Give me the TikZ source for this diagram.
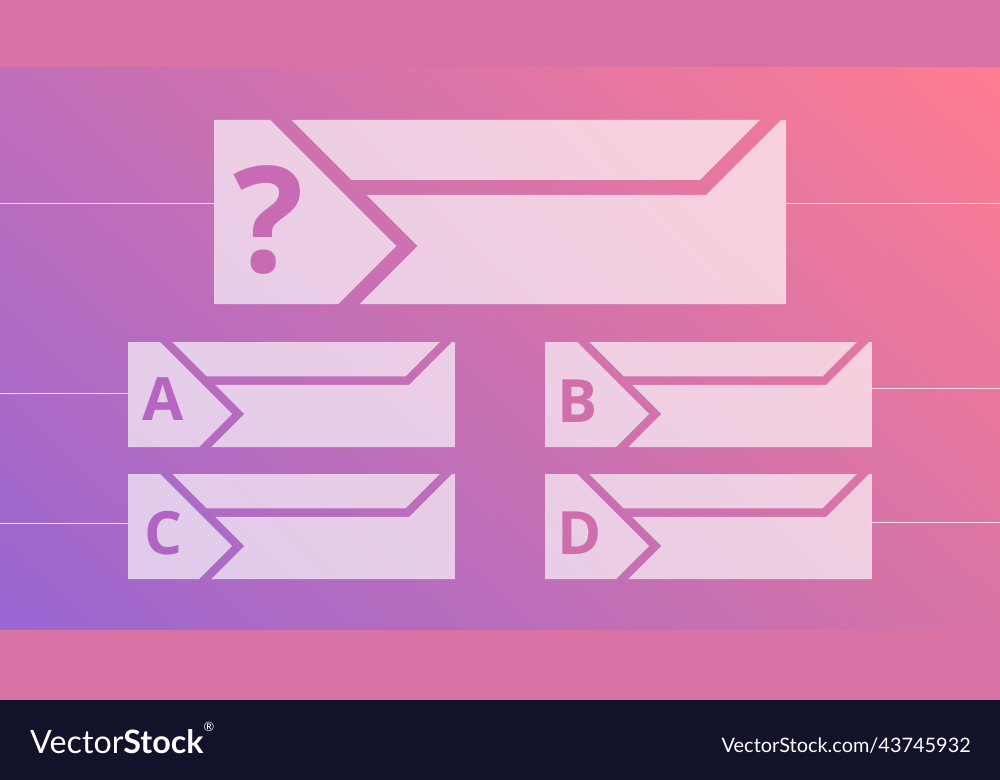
\documentclass[tikz,border=0pt]{standalone}
\usepackage{fontspec}
\usetikzlibrary{shadings}
\setmainfont{Open Sans}
\newfontfamily\footfont{Lato}
\definecolor{bandpink}{HTML}{D973A6}
\definecolor{gradtl}{HTML}{C06EB9}
\definecolor{gradtr}{HTML}{FF7D91}
\definecolor{gradbl}{HTML}{9966D2}
\definecolor{gradbr}{HTML}{D874A6}
\definecolor{footnavy}{HTML}{12132A}
\definecolor{qmark}{HTML}{C86AB4}
\definecolor{markA}{HTML}{B666C0}
\definecolor{markB}{HTML}{D070A8}
\definecolor{markC}{HTML}{B064C4}
\definecolor{markD}{HTML}{CE6EAC}
\tikzset{
  card/.style={fill=white, fill opacity=0.66},
  guide/.style={draw=white, draw opacity=0.75, line width=0.8pt},
  optletter/.style={font=\fontsize{51}{51}\selectfont\bfseries},
}
% one card: x, y, scale (big card is 572 x 184)
\newcommand{\answercard}[3]{%
  \begin{scope}[shift={(#1,#2)}, scale=#3]
    \fill[card] (0,0) -- (56.4,0) -- (182.4,126) -- (124.4,184) -- (0,184) -- cycle;
    \fill[card] (77.6,0) -- (545.9,0) -- (485.9,60) -- (137.6,60) -- cycle;
    \fill[card] (567.1,0) -- (572,0) -- (572,184) -- (145.6,184) -- (203.6,126)
      -- (152.6,75) -- (492.1,75) -- cycle;
  \end{scope}}
\begin{document}
\begin{tikzpicture}[x=0.3mm, y=-0.3mm]
    \useasboundingbox (0,0) rectangle (1000,780);
    % background bands
    \fill[bandpink] (0,0) rectangle (1000,68);
    \shade[upper left=gradtl, upper right=gradtr, lower left=gradbl, lower right=gradbr]
        (0,68) rectangle (1000,630);
    \fill[bandpink] (0,630) rectangle (1000,700);
    \fill[footnavy] (0,700) rectangle (1000,780);

    % guide lines
    \coordinate (qL) at (214,203);
    \coordinate (qR) at (786,203);
    \coordinate (aL) at (128,393);
    \coordinate (bR) at (871,388);
    \coordinate (cL) at (128,523);
    \coordinate (dR) at (871,522);
    \draw[guide] (0,203) -- (qL);
    \draw[guide] (qR) -- (1000,203);
    \draw[guide] (0,393) -- (aL);
    \draw[guide] (bR) -- (1000,388);
    \draw[guide] (0,523) -- (cL);
    \draw[guide] (dR) -- (1000,522);

    % cards
    \answercard{214}{120}{1}
    \answercard{128}{342}{0.5714}
    \answercard{545}{342}{0.5714}
    \answercard{128}{474}{0.5714}
    \answercard{545}{474}{0.5714}

    \node[text=qmark, font=\fontsize{126}{126}\selectfont\bfseries] (question) at (269,220) {?};
    \node[optletter, text=markA] (optA) at (163,399) {A};
    \node[optletter, text=markB] (optB) at (578,401) {B};
    \node[optletter, text=markC] (optC) at (164,533) {C};
    \node[optletter, text=markD] (optD) at (580,533) {D};

    % footer
    \node[anchor=base west, text=white, inner sep=0pt, font=\footfont\fontsize{27.5}{27.5}\selectfont]
        (brand) at (30,753) {Vector\textbf{Stock}\raisebox{1.3ex}{\fontsize{11}{11}\selectfont ®}};
    \node[anchor=base east, text=white, inner sep=0pt, font=\footfont\fontsize{17}{17}\selectfont]
        (stockid) at (971,752) {VectorStock.com/43745932};
\end{tikzpicture}
\end{document}
